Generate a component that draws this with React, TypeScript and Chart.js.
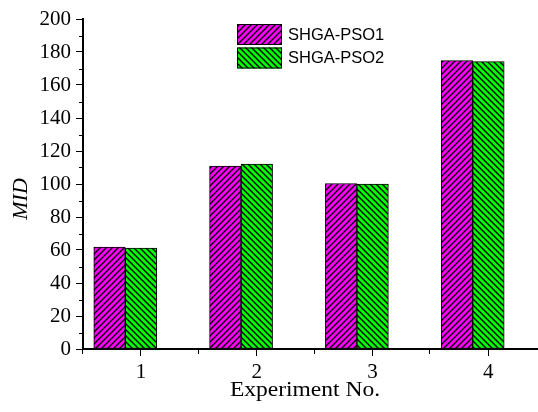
import React, { useEffect, useRef } from 'react';
import { Chart, registerables } from 'chart.js';

Chart.register(...registerables);

const categories = [1, 2, 3, 4];
const xTickLabels = ['1', '2', '3', '4'];
const seriesNames = ['SHGA-PSO1', 'SHGA-PSO2'];
const pso1Values = [61.8, 110.8, 100.3, 174.8];
const pso2Values = [61.2, 112.0, 99.9, 174.2];
const yMin = 0;
const yMax = 200;
const yStep = 20;
const yMinorTicks = [10, 30, 50, 70, 90, 110, 130, 150, 170, 190];
const xMinorTicks = [0.5, 1.5, 2.5, 3.5];
const xTitle = 'Experiment No.';
const yTitle = 'MID';

const X_MIN = 0.5;
const X_MAX = 4.429;
const BAR_SHIFT = 0.135;

function makeHatch(bg: string, forward: boolean): CanvasPattern | string {
  const s = 6;
  const c = document.createElement('canvas');
  c.width = s;
  c.height = s;
  const g = c.getContext('2d');
  if (!g) return bg;
  g.fillStyle = bg;
  g.fillRect(0, 0, s, s);
  g.strokeStyle = '#000';
  g.lineWidth = 1.4;
  g.beginPath();
  if (forward) {
    g.moveTo(0, s); g.lineTo(s, 0);
    g.moveTo(-1, 1); g.lineTo(1, -1);
    g.moveTo(s - 1, s + 1); g.lineTo(s + 1, s - 1);
  } else {
    g.moveTo(0, 0); g.lineTo(s, s);
    g.moveTo(-1, s - 1); g.lineTo(1, s + 1);
    g.moveTo(s - 1, -1); g.lineTo(s + 1, 1);
  }
  g.stroke();
  const p = g.createPattern(c, 'repeat');
  return p || bg;
}

export default function App() {
  const ref = useRef<HTMLCanvasElement | null>(null);

  useEffect(() => {
    document.body.style.margin = '0';
    const canvas = ref.current;
    if (!canvas) return;
    const magenta = makeHatch('#FF00FF', true);
    const green = makeHatch('#00FF00', false);
    const fills = [magenta, green];
    const serif = '"Liberation Serif", "Times New Roman", serif';

    const minorTicks = {
      id: 'minorTicks',
      afterDatasetsDraw(chart: any) {
        const ctx = chart.ctx;
        const xs = chart.scales.x;
        const ys = chart.scales.y;
        const area = chart.chartArea;
        ctx.save();
        ctx.strokeStyle = '#000';
        ctx.lineWidth = 1;
        ctx.beginPath();
        for (const v of yMinorTicks) {
          const py = Math.round(ys.getPixelForValue(v)) + 0.5;
          ctx.moveTo(area.left - 4, py);
          ctx.lineTo(area.left, py);
        }
        for (const v of xMinorTicks) {
          const px = Math.round(xs.getPixelForValue(v)) - 0.5;
          ctx.moveTo(px, area.bottom);
          ctx.lineTo(px, area.bottom + 5);
        }
        ctx.stroke();
        ctx.restore();
      },
    };

    const titlesPlugin = {
      id: 'axisTitles',
      afterDraw(chart: any) {
        const ctx = chart.ctx;
        const area = chart.chartArea;
        ctx.save();
        ctx.fillStyle = '#000';
        ctx.textAlign = 'center';
        ctx.textBaseline = 'middle';
        ctx.font = '21px ' + serif;
        ctx.save();
        ctx.translate(area.left + 222, 390);
        ctx.scale(1.12, 1);
        ctx.fillText(xTitle, 0, 0);
        ctx.restore();
        ctx.translate(21, 199);
        ctx.rotate(-Math.PI / 2);
        ctx.font = 'italic 22px ' + serif;
        ctx.fillText(yTitle, 0, 0);
        ctx.restore();
      },
    };

    const legendPlugin = {
      id: 'boxLegend',
      afterDraw(chart: any) {
        const ctx = chart.ctx;
        const area = chart.chartArea;
        const bx = area.left + 154;
        const bw = 45;
        const bh = 21;
        const tops = [24, 47.5];
        ctx.save();
        chart.data.datasets.forEach((ds: any, i: number) => {
          const y = tops[i];
          ctx.fillStyle = fills[i];
          ctx.fillRect(bx, y, bw, bh);
          ctx.strokeStyle = '#000';
          ctx.lineWidth = 1;
          ctx.strokeRect(bx + 0.5, y + 0.5, bw - 1, bh - 1);
          ctx.fillStyle = '#000';
          ctx.font = '16.5px "Liberation Sans", Arial, sans-serif';
          ctx.textBaseline = 'middle';
          ctx.textAlign = 'left';
          ctx.fillText(ds.label, bx + bw + 6, y + bh / 2 + 0.5);
        });
        ctx.restore();
      },
    };

    const chart = new Chart(canvas, {
      type: 'bar',
      data: {
        datasets: [
          {
            label: seriesNames[0],
            data: categories.map((c, i) => ({ x: c, y: pso1Values[i] })),
            backgroundColor: magenta as any,
            borderColor: '#000',
            borderWidth: 1,
            borderSkipped: false,
            barThickness: 31.5,
            xAxisID: 'xb',
            yAxisID: 'y',
          },
          {
            label: seriesNames[1],
            data: categories.map((c, i) => ({ x: c, y: pso2Values[i] })),
            backgroundColor: green as any,
            borderColor: '#000',
            borderWidth: 1,
            borderSkipped: false,
            barThickness: 31.5,
            xAxisID: 'xb',
            yAxisID: 'y',
          },
        ],
      },
      options: {
        animation: false,
        responsive: false,
        maintainAspectRatio: false,
        layout: { padding: { top: 19, right: 0, left: 0, bottom: 0 } },
        plugins: {
          legend: { display: false },
          tooltip: { enabled: false },
        },
        scales: {
          x: {
            type: 'linear',
            position: 'bottom',
            offset: false,
            min: X_MIN,
            max: X_MAX,
            afterBuildTicks: (s: any) => {
              s.ticks = categories.map((v) => ({ value: v }));
            },
            afterFit: (s: any) => {
              s.height = 63;
            },
            ticks: {
              callback: (v: any) => {
                const idx = categories.indexOf(Number(v));
                return idx >= 0 ? xTickLabels[idx] : '';
              },
              color: '#000',
              font: { family: serif, size: 21 },
              padding: 4,
              maxRotation: 0,
              autoSkip: false,
            },
            grid: {
              offset: false,
              drawOnChartArea: false,
              drawTicks: true,
              tickLength: 7,
              tickColor: '#000',
              tickWidth: 1,
            },
            border: { display: true, color: '#000', width: 2 },
            title: { display: false },
          },
          xb: {
            type: 'linear',
            display: false,
            offset: false,
            grid: { offset: false },
            min: X_MIN + BAR_SHIFT,
            max: X_MAX + BAR_SHIFT,
          },
          y: {
            type: 'linear',
            min: yMin,
            max: yMax,
            afterFit: (s: any) => {
              s.width = 83;
            },
            ticks: {
              stepSize: yStep,
              color: '#000',
              font: { family: serif, size: 21 },
              padding: 5,
            },
            grid: {
              drawOnChartArea: false,
              drawTicks: true,
              tickLength: 7,
              tickColor: '#000',
              tickWidth: 1,
            },
            border: { display: true, color: '#000', width: 2 },
            title: { display: false },
          },
        },
      } as any,
      plugins: [minorTicks, titlesPlugin, legendPlugin],
    });

    return () => {
      chart.destroy();
    };
  }, []);

  return (
    <div style={{ width: 538, height: 412 }}>
      <canvas ref={ref} width={538} height={412} style={{ display: 'block' }} />
    </div>
  );
}
